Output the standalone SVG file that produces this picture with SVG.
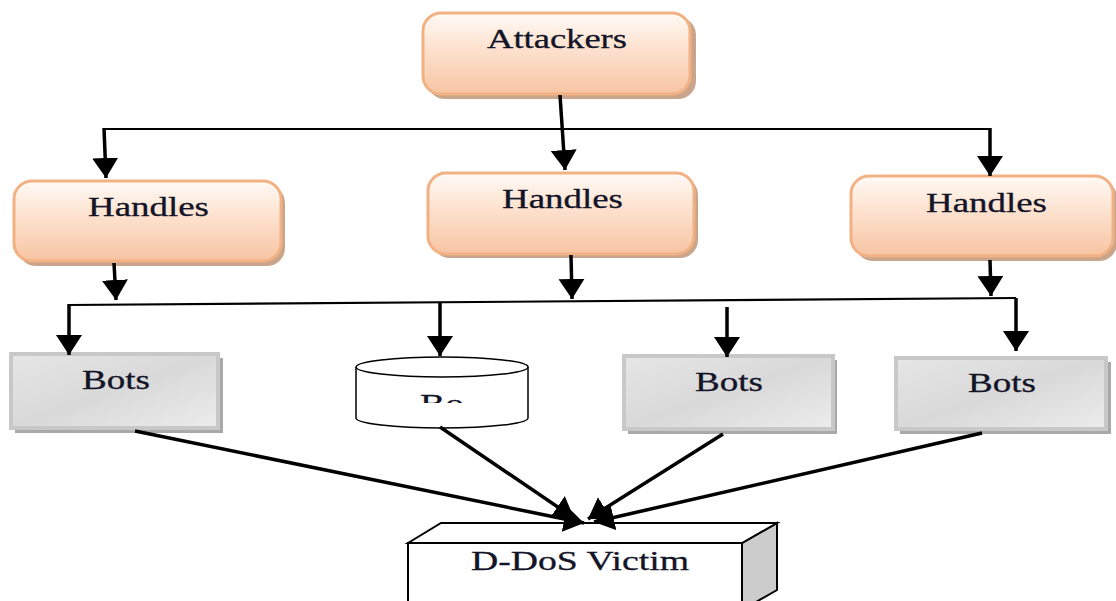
<svg xmlns="http://www.w3.org/2000/svg" width="1116" height="601" viewBox="0 0 1116 601">
<defs>
<linearGradient id="peach" x1="0" y1="0" x2="0" y2="1">
<stop offset="0" stop-color="#fffaf6"/>
<stop offset="0.4" stop-color="#fde4d2"/>
<stop offset="1" stop-color="#f7c4a2"/>
</linearGradient>
<linearGradient id="gray" x1="0" y1="0" x2="1" y2="1">
<stop offset="0" stop-color="#e6e6e6"/>
<stop offset="0.5" stop-color="#d9d9d9"/>
<stop offset="1" stop-color="#ececec"/>
</linearGradient>
<marker id="ah" markerUnits="userSpaceOnUse" markerWidth="22" markerHeight="28" viewBox="0 0 22 28" refX="20" refY="14" orient="auto">
<path d="M0,1 L20,14 L0,27 Z" fill="#000"/>
</marker>
<clipPath id="boclip"><rect x="380" y="380" width="120" height="23"/></clipPath>
</defs>
<style>
.hd rect.sh{fill:#c9a58c;}
.hd rect.bx{fill:url(#peach);stroke:#f2b183;stroke-width:3;}
.bt rect.sh{fill:#a9a9a9;}
.bt rect.bx{fill:url(#gray);stroke:#c8c8c8;stroke-width:4;}
text{font-family:"Liberation Serif","Times New Roman",serif;fill:#141428;font-size:27px;stroke:#141428;stroke-width:0.3;}
.c line,.c polyline{stroke:#000;fill:none;}
.thin{stroke-width:2.2;}
.thick{stroke-width:3.5;}
</style>

<g id="attackers" class="hd">
<rect class="sh" x="427" y="17" width="269" height="82" rx="18"/>
<rect class="bx" x="423" y="13" width="267" height="81" rx="18"/>
<text x="487" y="48" textLength="140" lengthAdjust="spacingAndGlyphs">Attackers</text>
</g>

<g id="handles1" class="hd">
<rect class="sh" x="18" y="185" width="267" height="81" rx="18"/>
<rect class="bx" x="14" y="181" width="267" height="80" rx="18"/>
<text x="88" y="216" textLength="121" lengthAdjust="spacingAndGlyphs">Handles</text>
</g>

<g id="handles2" class="hd">
<rect class="sh" x="432" y="177" width="266" height="81" rx="18"/>
<rect class="bx" x="428" y="173" width="266" height="81" rx="18"/>
<text x="502" y="208" textLength="121" lengthAdjust="spacingAndGlyphs">Handles</text>
</g>

<g id="handles3" class="hd">
<rect class="sh" x="855" y="180" width="262" height="81" rx="18"/>
<rect class="bx" x="851" y="176" width="262" height="80" rx="18"/>
<text x="926" y="212" textLength="121" lengthAdjust="spacingAndGlyphs">Handles</text>
</g>

<g id="bots1" class="bt">
<rect class="sh" x="15" y="358" width="208" height="75"/>
<rect class="bx" x="11" y="354" width="207" height="74"/>
<text x="82" y="389" textLength="68" lengthAdjust="spacingAndGlyphs">Bots</text>
</g>

<g id="bots2">
<path d="M356,367 L356,418 A86,10 0 0 0 528,418 L528,367" fill="#fff" stroke="#000" stroke-width="1.5"/>
<ellipse cx="442" cy="367" rx="86" ry="10" fill="#fff" stroke="#000" stroke-width="1.5"/>
<text x="420" y="413" clip-path="url(#boclip)" textLength="44" lengthAdjust="spacingAndGlyphs">Bo</text>
</g>

<g id="bots3" class="bt">
<rect class="sh" x="628" y="360" width="209" height="74"/>
<rect class="bx" x="624" y="356" width="209" height="73"/>
<text x="695" y="391" textLength="68" lengthAdjust="spacingAndGlyphs">Bots</text>
</g>

<g id="bots4" class="bt">
<rect class="sh" x="900" y="362" width="211" height="72"/>
<rect class="bx" x="896" y="358" width="210" height="71"/>
<text x="968" y="392" textLength="68" lengthAdjust="spacingAndGlyphs">Bots</text>
</g>

<g id="victim">
<path d="M742,543 L777,523 L777,590 L742,610 Z" fill="#cccccc" stroke="#000" stroke-width="2"/>
<path d="M408,543 L441,523 L777,523 L742,543 Z" fill="#fff" stroke="#000" stroke-width="2"/>
<rect x="408" y="543" width="334" height="70" fill="#fff" stroke="#000" stroke-width="2"/>
<text x="471" y="570" textLength="218" lengthAdjust="spacingAndGlyphs">D-DoS Victim</text>
</g>

<g id="connectors" class="c">
<polyline class="thin" points="104,129 990,129"/>
<line class="thick" x1="104" y1="128" x2="106" y2="178" marker-end="url(#ah)"/>
<line class="thick" x1="990" y1="128" x2="990" y2="176" marker-end="url(#ah)"/>
<line class="thick" x1="560" y1="95" x2="565" y2="170" marker-end="url(#ah)"/>

<line class="thick" x1="114" y1="263" x2="116" y2="300" marker-end="url(#ah)"/>
<line class="thick" x1="571" y1="255" x2="572" y2="299" marker-end="url(#ah)"/>
<line class="thick" x1="990" y1="260" x2="991" y2="296" marker-end="url(#ah)"/>

<polyline class="thin" points="69,305 1016,298"/>
<line class="thick" x1="69" y1="304" x2="69" y2="355" marker-end="url(#ah)"/>
<line class="thick" x1="440" y1="302" x2="440" y2="356" marker-end="url(#ah)"/>
<line class="thick" x1="727" y1="307" x2="727" y2="357" marker-end="url(#ah)"/>
<line class="thick" x1="1016" y1="298" x2="1016" y2="351" marker-end="url(#ah)"/>

<line class="thick" x1="135" y1="431" x2="584" y2="523" marker-end="url(#ah)"/>
<line class="thick" x1="440" y1="427" x2="574" y2="518" marker-end="url(#ah)"/>
<line class="thick" x1="723" y1="434" x2="588" y2="519" marker-end="url(#ah)"/>
<line class="thick" x1="982" y1="433" x2="594" y2="522" marker-end="url(#ah)"/>
</g>
</svg>
